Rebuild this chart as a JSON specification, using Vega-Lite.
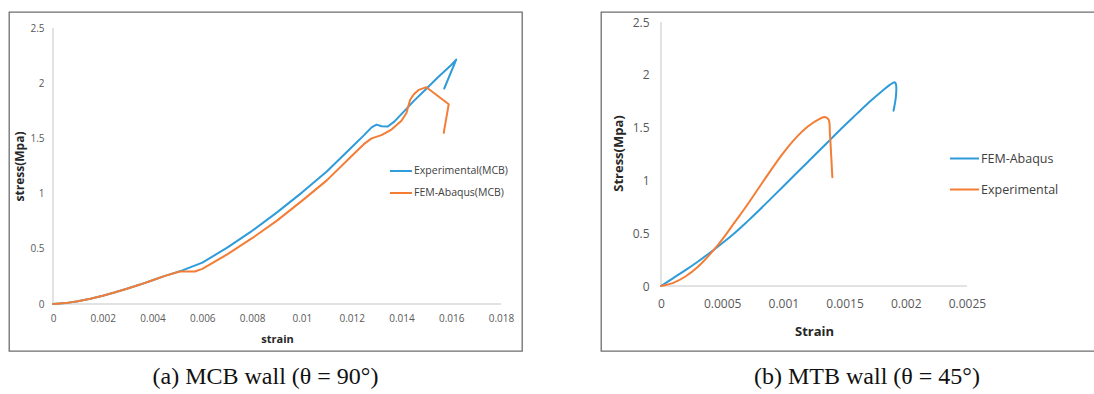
{
  "$schema": "https://vega.github.io/schema/vega-lite/v6.json",
  "padding": {"left": 8, "top": 11, "right": 0, "bottom": 0},
  "autosize": {"type": "pad"},
  "background": "white",
  "bounds": "flush",
  "spacing": 79,
  "config": {
    "view": {"stroke": "#6e6e6e", "strokeWidth": 1.3},
    "axis": {"grid": false, "domain": false, "ticks": false, "tickSize": 0, "labelFlush": false, "labelOverlap": false, "labelFont": "Open Sans", "labelColor": "#595959", "titleFont": "Open Sans", "titleColor": "#262626", "titleFontWeight": "bold"},
    "legend": {"labelFont": "Open Sans", "labelColor": "#404040", "padding": 0}
  },
  "datasets": {
    "axesA": [
      {"strain": 0, "stress": 0, "strain2": 0.018, "stress2": 0},
      {"strain": 0, "stress": 0, "strain2": 0, "stress2": 2.5}
    ],
    "axesB": [
      {"strain": 0, "stress": 0, "strain2": 0.0025, "stress2": 0},
      {"strain": 0, "stress": 0, "strain2": 0, "stress2": 2.5}
    ],
    "curvesA": [
      {"series": "Experimental(MCB)", "i": 0, "strain": 0, "stress": 0},
      {"series": "Experimental(MCB)", "i": 1, "strain": 0.0005, "stress": 0.008},
      {"series": "Experimental(MCB)", "i": 2, "strain": 0.001, "stress": 0.025},
      {"series": "Experimental(MCB)", "i": 3, "strain": 0.0015, "stress": 0.048},
      {"series": "Experimental(MCB)", "i": 4, "strain": 0.002, "stress": 0.075},
      {"series": "Experimental(MCB)", "i": 5, "strain": 0.0025, "stress": 0.106},
      {"series": "Experimental(MCB)", "i": 6, "strain": 0.003, "stress": 0.14},
      {"series": "Experimental(MCB)", "i": 7, "strain": 0.0035, "stress": 0.176},
      {"series": "Experimental(MCB)", "i": 8, "strain": 0.004, "stress": 0.215},
      {"series": "Experimental(MCB)", "i": 9, "strain": 0.0045, "stress": 0.255},
      {"series": "Experimental(MCB)", "i": 10, "strain": 0.0052, "stress": 0.305},
      {"series": "Experimental(MCB)", "i": 11, "strain": 0.006, "stress": 0.375},
      {"series": "Experimental(MCB)", "i": 12, "strain": 0.007, "stress": 0.51},
      {"series": "Experimental(MCB)", "i": 13, "strain": 0.008, "stress": 0.663},
      {"series": "Experimental(MCB)", "i": 14, "strain": 0.009, "stress": 0.83},
      {"series": "Experimental(MCB)", "i": 15, "strain": 0.01, "stress": 1.009},
      {"series": "Experimental(MCB)", "i": 16, "strain": 0.011, "stress": 1.2},
      {"series": "Experimental(MCB)", "i": 17, "strain": 0.012, "stress": 1.42},
      {"series": "Experimental(MCB)", "i": 18, "strain": 0.0125, "stress": 1.53},
      {"series": "Experimental(MCB)", "i": 19, "strain": 0.0128, "stress": 1.6},
      {"series": "Experimental(MCB)", "i": 20, "strain": 0.013, "stress": 1.625},
      {"series": "Experimental(MCB)", "i": 21, "strain": 0.0132, "stress": 1.61},
      {"series": "Experimental(MCB)", "i": 22, "strain": 0.01345, "stress": 1.608},
      {"series": "Experimental(MCB)", "i": 23, "strain": 0.0137, "stress": 1.65},
      {"series": "Experimental(MCB)", "i": 24, "strain": 0.014, "stress": 1.72},
      {"series": "Experimental(MCB)", "i": 25, "strain": 0.0145, "stress": 1.84},
      {"series": "Experimental(MCB)", "i": 26, "strain": 0.015, "stress": 1.95},
      {"series": "Experimental(MCB)", "i": 27, "strain": 0.0155, "stress": 2.06},
      {"series": "Experimental(MCB)", "i": 28, "strain": 0.016, "stress": 2.165},
      {"series": "Experimental(MCB)", "i": 29, "strain": 0.0162, "stress": 2.214},
      {"series": "Experimental(MCB)", "i": 30, "strain": 0.01572, "stress": 1.952},
      {"series": "FEM-Abaqus(MCB)", "i": 0, "strain": 0, "stress": 0},
      {"series": "FEM-Abaqus(MCB)", "i": 1, "strain": 0.0005, "stress": 0.008},
      {"series": "FEM-Abaqus(MCB)", "i": 2, "strain": 0.001, "stress": 0.025},
      {"series": "FEM-Abaqus(MCB)", "i": 3, "strain": 0.0015, "stress": 0.048},
      {"series": "FEM-Abaqus(MCB)", "i": 4, "strain": 0.002, "stress": 0.075},
      {"series": "FEM-Abaqus(MCB)", "i": 5, "strain": 0.0025, "stress": 0.106},
      {"series": "FEM-Abaqus(MCB)", "i": 6, "strain": 0.003, "stress": 0.14},
      {"series": "FEM-Abaqus(MCB)", "i": 7, "strain": 0.0035, "stress": 0.176},
      {"series": "FEM-Abaqus(MCB)", "i": 8, "strain": 0.004, "stress": 0.215},
      {"series": "FEM-Abaqus(MCB)", "i": 9, "strain": 0.0045, "stress": 0.255},
      {"series": "FEM-Abaqus(MCB)", "i": 10, "strain": 0.0051, "stress": 0.295},
      {"series": "FEM-Abaqus(MCB)", "i": 11, "strain": 0.0057, "stress": 0.295},
      {"series": "FEM-Abaqus(MCB)", "i": 12, "strain": 0.006, "stress": 0.318},
      {"series": "FEM-Abaqus(MCB)", "i": 13, "strain": 0.007, "stress": 0.45},
      {"series": "FEM-Abaqus(MCB)", "i": 14, "strain": 0.008, "stress": 0.596},
      {"series": "FEM-Abaqus(MCB)", "i": 15, "strain": 0.009, "stress": 0.755},
      {"series": "FEM-Abaqus(MCB)", "i": 16, "strain": 0.01, "stress": 0.934},
      {"series": "FEM-Abaqus(MCB)", "i": 17, "strain": 0.011, "stress": 1.12},
      {"series": "FEM-Abaqus(MCB)", "i": 18, "strain": 0.012, "stress": 1.34},
      {"series": "FEM-Abaqus(MCB)", "i": 19, "strain": 0.0125, "stress": 1.45},
      {"series": "FEM-Abaqus(MCB)", "i": 20, "strain": 0.0128, "stress": 1.5},
      {"series": "FEM-Abaqus(MCB)", "i": 21, "strain": 0.0132, "stress": 1.53},
      {"series": "FEM-Abaqus(MCB)", "i": 22, "strain": 0.0136, "stress": 1.58},
      {"series": "FEM-Abaqus(MCB)", "i": 23, "strain": 0.014, "stress": 1.66},
      {"series": "FEM-Abaqus(MCB)", "i": 24, "strain": 0.0142, "stress": 1.73},
      {"series": "FEM-Abaqus(MCB)", "i": 25, "strain": 0.01435, "stress": 1.85},
      {"series": "FEM-Abaqus(MCB)", "i": 26, "strain": 0.0145, "stress": 1.9},
      {"series": "FEM-Abaqus(MCB)", "i": 27, "strain": 0.0147, "stress": 1.94},
      {"series": "FEM-Abaqus(MCB)", "i": 28, "strain": 0.015, "stress": 1.964},
      {"series": "FEM-Abaqus(MCB)", "i": 29, "strain": 0.0152, "stress": 1.93},
      {"series": "FEM-Abaqus(MCB)", "i": 30, "strain": 0.0159, "stress": 1.81},
      {"series": "FEM-Abaqus(MCB)", "i": 31, "strain": 0.0157, "stress": 1.55}
    ],
    "curvesB": [
      {"series": "FEM-Abaqus", "i": 0, "strain": 0, "stress": 0},
      {"series": "FEM-Abaqus", "i": 1, "strain": 0.0001, "stress": 0.075},
      {"series": "FEM-Abaqus", "i": 2, "strain": 0.0002, "stress": 0.15},
      {"series": "FEM-Abaqus", "i": 3, "strain": 0.0003, "stress": 0.23},
      {"series": "FEM-Abaqus", "i": 4, "strain": 0.0004, "stress": 0.315},
      {"series": "FEM-Abaqus", "i": 5, "strain": 0.0005, "stress": 0.405},
      {"series": "FEM-Abaqus", "i": 6, "strain": 0.0006, "stress": 0.5},
      {"series": "FEM-Abaqus", "i": 7, "strain": 0.0007, "stress": 0.605},
      {"series": "FEM-Abaqus", "i": 8, "strain": 0.0008, "stress": 0.715},
      {"series": "FEM-Abaqus", "i": 9, "strain": 0.0009, "stress": 0.83},
      {"series": "FEM-Abaqus", "i": 10, "strain": 0.001, "stress": 0.945},
      {"series": "FEM-Abaqus", "i": 11, "strain": 0.0011, "stress": 1.06},
      {"series": "FEM-Abaqus", "i": 12, "strain": 0.0012, "stress": 1.175},
      {"series": "FEM-Abaqus", "i": 13, "strain": 0.0013, "stress": 1.29},
      {"series": "FEM-Abaqus", "i": 14, "strain": 0.0014, "stress": 1.405},
      {"series": "FEM-Abaqus", "i": 15, "strain": 0.0015, "stress": 1.52},
      {"series": "FEM-Abaqus", "i": 16, "strain": 0.0016, "stress": 1.63},
      {"series": "FEM-Abaqus", "i": 17, "strain": 0.0017, "stress": 1.74},
      {"series": "FEM-Abaqus", "i": 18, "strain": 0.0018, "stress": 1.84},
      {"series": "FEM-Abaqus", "i": 19, "strain": 0.00187, "stress": 1.905},
      {"series": "FEM-Abaqus", "i": 20, "strain": 0.00191, "stress": 1.93},
      {"series": "FEM-Abaqus", "i": 21, "strain": 0.00192, "stress": 1.91},
      {"series": "FEM-Abaqus", "i": 22, "strain": 0.00192, "stress": 1.8},
      {"series": "FEM-Abaqus", "i": 23, "strain": 0.0019, "stress": 1.66},
      {"series": "Experimental", "i": 0, "strain": 0, "stress": 0},
      {"series": "Experimental", "i": 1, "strain": 0.0001, "stress": 0.03},
      {"series": "Experimental", "i": 2, "strain": 0.0002, "stress": 0.09},
      {"series": "Experimental", "i": 3, "strain": 0.0003, "stress": 0.18},
      {"series": "Experimental", "i": 4, "strain": 0.0004, "stress": 0.3},
      {"series": "Experimental", "i": 5, "strain": 0.0005, "stress": 0.44},
      {"series": "Experimental", "i": 6, "strain": 0.0006, "stress": 0.6},
      {"series": "Experimental", "i": 7, "strain": 0.0007, "stress": 0.76},
      {"series": "Experimental", "i": 8, "strain": 0.0008, "stress": 0.93},
      {"series": "Experimental", "i": 9, "strain": 0.0009, "stress": 1.1},
      {"series": "Experimental", "i": 10, "strain": 0.001, "stress": 1.26},
      {"series": "Experimental", "i": 11, "strain": 0.0011, "stress": 1.4},
      {"series": "Experimental", "i": 12, "strain": 0.0012, "stress": 1.51},
      {"series": "Experimental", "i": 13, "strain": 0.0013, "stress": 1.585},
      {"series": "Experimental", "i": 14, "strain": 0.00134, "stress": 1.6},
      {"series": "Experimental", "i": 15, "strain": 0.00137, "stress": 1.575},
      {"series": "Experimental", "i": 16, "strain": 0.00138, "stress": 1.45},
      {"series": "Experimental", "i": 17, "strain": 0.00139, "stress": 1.25},
      {"series": "Experimental", "i": 18, "strain": 0.0014, "stress": 1.03}
    ]
  },
  "hconcat": [
    {
      "width": 513,
      "height": 339,
      "title": {"text": "(a) MCB wall (θ = 90°)", "orient": "bottom", "anchor": "middle", "frame": "group", "offset": 14, "font": "Liberation Serif", "fontSize": 24, "fontWeight": "normal", "color": "#111111"},
      "layer": [
        {
          "data": {"name": "axesA"},
          "mark": {"type": "rule", "color": "#d9d9d9", "strokeWidth": 1.5},
          "encoding": {
            "x": {"field": "strain", "type": "quantitative",
              "scale": {"domain": [-0.001768, 0.018844], "nice": false, "zero": false},
              "axis": {"values": [0, 0.002, 0.004, 0.006, 0.008, 0.01, 0.012, 0.014, 0.016, 0.018], "format": "~g", "offset": -47, "labelPadding": 9, "labelFontSize": 10, "title": "strain", "titleFontSize": 11, "titleX": 268, "titleY": 35, "titleBaseline": "middle", "titleAlign": "center"}},
            "x2": {"field": "strain2"},
            "y": {"field": "stress", "type": "quantitative",
              "scale": {"domain": [-0.4257, 2.645], "nice": false, "zero": false},
              "axis": {"values": [0, 0.5, 1, 1.5, 2, 2.5], "format": "~g", "offset": -44, "labelPadding": 9, "labelFontSize": 10, "title": "stress(Mpa)", "titleFontSize": 12, "titleX": -34, "titleY": 154, "titleAngle": -90, "titleBaseline": "middle", "titleAlign": "center"}},
            "y2": {"field": "stress2"}
          }
        },
        {
          "data": {"name": "curvesA"},
          "mark": {"type": "line", "strokeWidth": 2, "strokeJoin": "round", "strokeCap": "round"},
          "encoding": {
            "x": {"field": "strain", "type": "quantitative"},
            "y": {"field": "stress", "type": "quantitative"},
            "order": {"field": "i", "type": "quantitative"},
            "color": {"field": "series", "type": "nominal",
              "scale": {"domain": ["Experimental(MCB)", "FEM-Abaqus(MCB)"], "range": ["#2f9bd8", "#f47d36"]},
              "legend": {"orient": "none", "legendX": 380, "legendY": 147, "title": null, "symbolType": "stroke", "symbolStrokeWidth": 2, "symbolSize": 484, "labelFontSize": 10.5, "rowPadding": 4, "labelOffset": 1}}
          }
        }
      ]
    },
    {
      "width": 494,
      "height": 339,
      "title": {"text": "(b) MTB wall (θ = 45°)", "orient": "bottom", "anchor": "middle", "frame": "group", "offset": 14, "dx": 19, "font": "Liberation Serif", "fontSize": 24, "fontWeight": "normal", "color": "#111111"},
      "layer": [
        {
          "data": {"name": "axesB"},
          "mark": {"type": "rule", "color": "#d9d9d9", "strokeWidth": 1.5},
          "encoding": {
            "x": {"field": "strain", "type": "quantitative",
              "scale": {"domain": [-0.00049, 0.003546], "nice": false, "zero": false},
              "axis": {"values": [0, 0.0005, 0.001, 0.0015, 0.002, 0.0025], "format": "~g", "offset": -65, "labelPadding": 12, "labelFontSize": 12, "title": "Strain", "titleFontSize": 13, "titleX": 213, "titleY": 45, "titleBaseline": "middle", "titleAlign": "center"}},
            "x2": {"field": "strain2"},
            "y": {"field": "stress", "type": "quantitative",
              "scale": {"domain": [-0.6155, 2.5947], "nice": false, "zero": false},
              "axis": {"values": [0, 0.5, 1, 1.5, 2, 2.5], "format": "~g", "offset": -60, "labelPadding": 12, "labelFontSize": 12, "title": "Stress(Mpa)", "titleFontSize": 13, "titleX": -43, "titleY": 141, "titleAngle": -90, "titleBaseline": "middle", "titleAlign": "center"}},
            "y2": {"field": "stress2"}
          }
        },
        {
          "data": {"name": "curvesB"},
          "mark": {"type": "line", "strokeWidth": 2, "strokeJoin": "round", "strokeCap": "round", "interpolate": "catmull-rom"},
          "encoding": {
            "x": {"field": "strain", "type": "quantitative"},
            "y": {"field": "stress", "type": "quantitative"},
            "order": {"field": "i", "type": "quantitative"},
            "color": {"field": "series", "type": "nominal",
              "scale": {"domain": ["FEM-Abaqus", "Experimental"], "range": ["#2f9bd8", "#f47d36"]},
              "legend": {"orient": "none", "legendX": 348, "legendY": 131, "title": null, "symbolType": "stroke", "symbolStrokeWidth": 2, "symbolSize": 841, "labelFontSize": 12.5, "rowPadding": 9, "labelOffset": 1}}
          }
        }
      ]
    }
  ],
  "resolve": {"scale": {"color": "independent"}, "legend": {"color": "independent"}}
}
